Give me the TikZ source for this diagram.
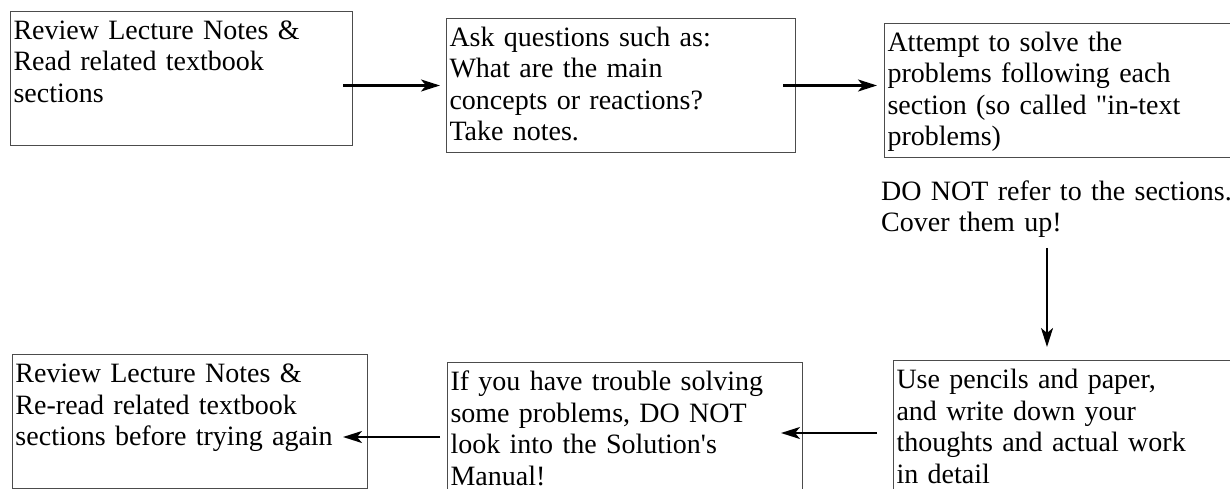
\documentclass[tikz,border=0pt]{standalone}
\usepackage{fontspec}
\setmainfont{Liberation Serif}
\usetikzlibrary{arrows.meta}

\begin{document}
\begin{tikzpicture}[
        x=1pt, y=1pt,
        every node/.style={font=\fontsize{28}{31.5}\selectfont},
        stepbox/.style={draw=black!70, line width=1pt, anchor=north west, align=left, inner xsep=3pt, inner ysep=9pt, text height=19pt},
        remark/.style={anchor=north west, align=left, inner sep=0pt, text height=19pt, text width=360pt},
        arrow/.style={-{Stealth[length=19pt, width=12pt, inset=5pt]}, line width=2.2pt}
    ]
        \useasboundingbox (0,0) rectangle (1230,-489);
        % top row
        \node[stepbox, text width=336pt, text depth=97pt] (review) at (10,-11) {Review Lecture Notes \&\\ Read related textbook\\ sections};
        \node[stepbox, text width=343pt, text depth=97pt] (ask) at (446,-18) {Ask questions such as:\\ What are the main\\ concepts or reactions?\\ Take notes.};
        \node[stepbox, text width=345pt, text depth=97pt] (attempt) at (884,-23) {Attempt to solve the\\ problems following each\\ section (so called \textquotedbl in-text\\ problems)};
        \node[remark] (cover) at (881,-181) {DO NOT refer to the sections.\\ Cover them up!};
        % bottom row
        \node[stepbox, text width=350pt, text depth=110pt] (pencil) at (893,-360) {Use pencils and paper,\\ and write down your\\ thoughts and actual work\\ in detail};
        \node[stepbox, text width=349pt, text depth=110pt] (trouble) at (447,-362) {If you have trouble solving\\ some problems, DO NOT\\ look into the Solution\textquotesingle s\\ Manual!};
        \node[stepbox, text width=349pt, text depth=97pt] (reread) at (12,-354) {Review Lecture Notes \&\\ Re-read related textbook\\ sections before trying again};
        \coordinate (gap) at ([shift={(166pt,-10pt)}]cover.south west);
        \draw[arrow] ([xshift=-10pt]review.east |- ask.west) -- ([xshift=-6pt]ask.west);
        \draw[arrow] ([xshift=-13pt]ask.east) -- ([xshift=-7pt]ask.east -| attempt.west);
        \draw[arrow, shorten >=13pt] (gap) -- (gap |- pencil.north);
        \draw[arrow] ([shift={(-16pt,-73pt)}]pencil.north west) -- ([shift={(-22pt,-73pt)}]pencil.north west -| trouble.east);
        \draw[arrow] ([shift={(-7pt,-75pt)}]trouble.north west) -- ([shift={(-25pt,-75pt)}]trouble.north west -| reread.east);
    \end{tikzpicture}
\end{document}
